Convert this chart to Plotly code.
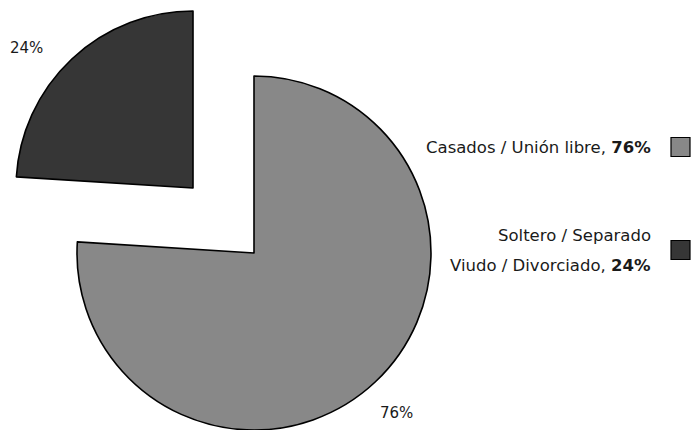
import plotly.graph_objects as go

# DATA #
labels = ["Casados / Unión libre", "Soltero / Separado<br>Viudo / Divorciado"]
values = [76, 24]
colors = ["#888888", "#363636"]

W, H = 694, 430
FONT = "DejaVu Sans"
TXT = "#1a1a1a"

def dom(cx, cy, r):
    # pixel centre/radius -> paper domain
    return dict(x=[(cx - r) / W, (cx + r) / W],
                y=[(H - cy - r) / H, (H - cy + r) / H])

fig = go.Figure()

# big slice (small one hidden, drawn separately so it can sit far out)
fig.add_trace(go.Pie(
    labels=labels, values=values, sort=False, direction="clockwise", rotation=0,
    marker=dict(colors=[colors[0], "rgba(0,0,0,0)"], line=dict(color="black", width=[1.6, 0])),
    textinfo="none", domain=dom(254, 253, 177), showlegend=False, hoverinfo="label+percent",
))

# exploded small slice
fig.add_trace(go.Pie(
    labels=labels, values=values, sort=False, direction="clockwise", rotation=0,
    marker=dict(colors=["rgba(0,0,0,0)", colors[1]], line=dict(color="black", width=[0, 1.6])),
    textinfo="none", domain=dom(193, 188, 177), showlegend=False, hoverinfo="label+percent",
))

# PERCENT LABELS #
pct_pos = [(396, 413), (26, 48)]
total = sum(values)
for i in range(len(values)):
    fig.add_annotation(
        x=pct_pos[i][0] / W, y=1 - pct_pos[i][1] / H, xref="paper", yref="paper",
        xanchor="center", yanchor="middle", showarrow=False,
        text="%d%%" % round(100 * values[i] / total),
        font=dict(family=FONT, size=15, color=TXT),
    )

# LEGEND (text left of the boxes) #
leg_y = [147, 250]
line_gap = 30
for i in range(len(labels)):
    lines = labels[i].split("<br>")
    lines[-1] += ", <b>%d%%</b>" % values[i]
    for j, ln in enumerate(lines):
        yy = leg_y[i] + (j - (len(lines) - 1) / 2) * line_gap
        fig.add_annotation(
            x=653 / W, y=1 - yy / H, xref="paper", yref="paper",
            xanchor="right", yanchor="middle", align="right", showarrow=False,
            text=ln, font=dict(family=FONT, size=16.5, color=TXT),
        )
    fig.add_shape(
        type="rect", xref="paper", yref="paper",
        x0=671 / W, x1=690 / W, y0=1 - (leg_y[i] - 9.5) / H, y1=1 - (leg_y[i] + 9.5) / H,
        fillcolor=colors[i], line=dict(color="black", width=1.2),
    )

fig.update_layout(
    width=W, height=H, margin=dict(l=0, r=0, t=0, b=0),
    paper_bgcolor="white", plot_bgcolor="white",
)

fig.write_html("out.html", config={"displayModeBar": False},
               post_script="document.body.style.margin='0';")
